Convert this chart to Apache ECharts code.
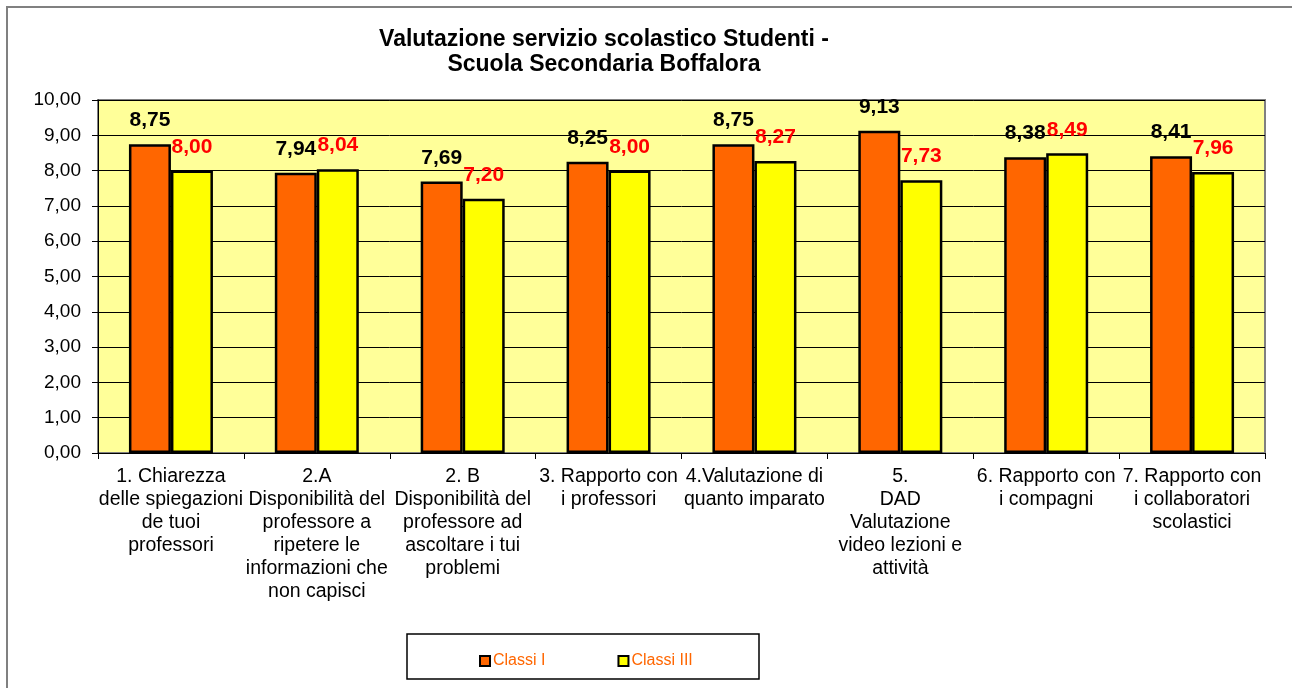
<!DOCTYPE html>
<html>
<head>
<meta charset="utf-8">
<script src="https://cdn.jsdelivr.net/npm/echarts@6/dist/echarts.min.js"></script>
<style>
  html, body { margin: 0; padding: 0; background: #fff; }
  #chart { width: 1292px; height: 688px; }
</style>
</head>
<body>
<div id="chart"></div>
<script>
// dati
const categorie = [
  '1. Chiarezza\ndelle spiegazioni\nde tuoi\nprofessori',
  '2.A\nDisponibilità del\nprofessore a\nripetere le\ninformazioni che\nnon capisci',
  '2. B\nDisponibilità del\nprofessore ad\nascoltare i tui\nproblemi',
  '3. Rapporto con\ni professori',
  '4.Valutazione di\nquanto imparato',
  '5.\nDAD\nValutazione\nvideo lezioni e\nattività',
  '6. Rapporto con\ni compagni',
  '7. Rapporto con\ni collaboratori\nscolastici'
];
const classiI = [8.75, 7.94, 7.69, 8.25, 8.75, 9.13, 8.38, 8.41];
const classiIII = [8.00, 8.04, 7.20, 8.00, 8.27, 7.73, 8.49, 7.96];

const FONT = '"Liberation Sans", Arial, sans-serif';
const virgola = v => v.toFixed(2).replace('.', ',');

let myChart = echarts.init(document.getElementById('chart'));

let option = {
  backgroundColor: '#fff',
  animation: false,
  title: {
    text: 'Valutazione servizio scolastico Studenti -\nScuola Secondaria Boffalora',
    left: 599,
    top: 22,
    textAlign: 'center',
    textStyle: { fontFamily: FONT, fontSize: 23, fontWeight: 'bold', color: '#000', lineHeight: 25 }
  },
  legend: {
    data: ['Classi I', 'Classi III'],
    left: 474,
    top: 648,
    icon: 'rect',
    itemWidth: 10,
    itemHeight: 10,
    itemGap: 72,
    textStyle: { fontFamily: FONT, fontSize: 16, color: '#FF6600', padding: [0, 0, 0, -2] }
  },
  grid: {
    left: 98,
    right: 27,
    top: 100,
    bottom: 235,
    show: true,
    backgroundColor: '#FFFF99',
    borderColor: '#808080',
    borderWidth: 2
  },
  xAxis: {
    type: 'category',
    data: categorie,
    axisLine: { lineStyle: { color: '#000', width: 1 } },
    axisTick: { show: true, length: 6, lineStyle: { color: '#000' } },
    axisLabel: {
      interval: 0,
      margin: 12,
      fontFamily: FONT,
      fontSize: 19.5,
      lineHeight: 23,
      color: '#000'
    }
  },
  yAxis: {
    type: 'value',
    min: 0,
    max: 10,
    interval: 1,
    axisLine: { show: true, lineStyle: { color: '#000', width: 1 } },
    axisTick: { show: true, length: 6, lineStyle: { color: '#000' } },
    splitLine: { show: true, lineStyle: { color: '#000', width: 1 } },
    axisLabel: {
      formatter: v => virgola(v),
      margin: 17,
      fontFamily: FONT,
      fontSize: 19,
      color: '#000'
    }
  },
  series: [
    {
      name: 'Classi I',
      type: 'bar',
      data: classiI,
      barWidth: 42,
      barGap: '0%',
      itemStyle: { color: '#FF6600', borderColor: '#000', borderWidth: 2.5 },
      label: {
        show: true,
        position: 'top',
        distance: 13,
        formatter: p => virgola(p.value),
        fontFamily: FONT,
        fontSize: 21,
        fontWeight: 'bold',
        color: '#000'
      }
    },
    {
      name: 'Classi III',
      type: 'bar',
      data: classiIII,
      barWidth: 42,
      itemStyle: { color: '#FFFF00', borderColor: '#000', borderWidth: 2.5 },
      label: {
        show: true,
        position: 'top',
        distance: 13,
        formatter: p => virgola(p.value),
        fontFamily: FONT,
        fontSize: 21,
        fontWeight: 'bold',
        color: '#FF0000'
      }
    }
  ],
  graphic: [
    {
      type: 'rect',
      shape: { x: 7, y: 7, width: 1300, height: 700 },
      style: { fill: 'none', stroke: '#808080', lineWidth: 2 },
      silent: true
    },
    {
      type: 'rect',
      shape: { x: 407, y: 634, width: 352, height: 45 },
      style: { fill: 'none', stroke: '#000', lineWidth: 1.5 },
      silent: true
    }
  ]
};

myChart.setOption(option, true);
</script>
</body>
</html>
